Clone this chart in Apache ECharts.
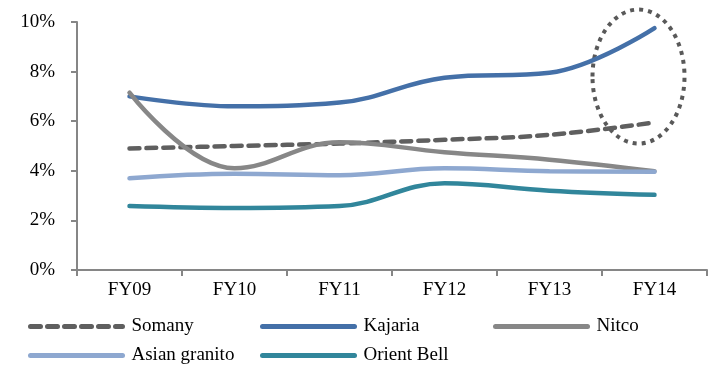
<!DOCTYPE html>
<html>
<head>
<meta charset="utf-8">
<script src="https://cdn.jsdelivr.net/npm/echarts@6/dist/echarts.min.js"></script>
<style>
  html, body { margin: 0; padding: 0; background: #fff; }
  #chart { width: 719px; height: 371px; }
</style>
</head>
<body>
<div id="chart"></div>
<script>
// Fiscal years on the x axis
const years = ['FY09', 'FY10', 'FY11', 'FY12', 'FY13', 'FY14'];

// Margin (%) per company
const somany       = [4.9, 5.0, 5.1, 5.25, 5.45, 5.95];
const kajaria      = [7.0, 6.6, 6.75, 7.75, 7.95, 9.75];
const nitco        = [7.15, 4.1, 5.15, 4.75, 4.45, 3.98];
const asianGranito = [3.7, 3.88, 3.82, 4.1, 3.98, 3.96];
const orientBell   = [2.58, 2.5, 2.58, 3.5, 3.2, 3.03];

// Y axis tick values (%)
const yTicks = [0, 2, 4, 6, 8, 10];

const FONT = '"Liberation Serif", "DejaVu Serif", serif';
const AXIS_GREY = '#868686';

const chart = echarts.init(document.getElementById('chart'), null, { renderer: 'canvas' });

function lineSeries(name, data, color, dashed) {
  return {
    name: name,
    type: 'line',
    data: data,
    smooth: 0.4,
    symbol: 'none',
    lineStyle: {
      color: color,
      width: 4.5,
      type: dashed ? [10, 7] : 'solid',
      cap: 'round'
    },
    itemStyle: { color: color }
  };
}

function legendItem(name, left, top) {
  return {
    data: [name],
    left: left,
    top: top,
    padding: 0,
    itemWidth: 92,
    itemHeight: 20,
    itemGap: 0,
    itemStyle: { opacity: 0 },
    lineStyle: { width: 5, cap: 'round' },
    textStyle: { fontFamily: FONT, fontSize: 19, color: '#000', padding: [0, 0, 0, 4] },
    selectedMode: false
  };
}

chart.setOption({
  animation: false,
  grid: { left: 77, right: 12, top: 22, bottom: 101, containLabel: false },
  xAxis: {
    type: 'category',
    data: years,
    boundaryGap: true,
    axisLine: { lineStyle: { color: AXIS_GREY, width: 2 } },
    axisTick: { show: true, length: 6, lineStyle: { color: AXIS_GREY, width: 2 } },
    axisLabel: { fontFamily: FONT, fontSize: 19, color: '#000', margin: 11 },
    splitLine: { show: false }
  },
  yAxis: {
    type: 'value',
    min: yTicks[0],
    max: yTicks[yTicks.length - 1],
    interval: 2,
    axisLine: { show: true, lineStyle: { color: AXIS_GREY, width: 2 } },
    axisTick: { show: true, length: 6, lineStyle: { color: AXIS_GREY, width: 2 } },
    axisLabel: { fontFamily: FONT, fontSize: 19, color: '#000', margin: 22, formatter: '{value}%' },
    splitLine: { show: false }
  },
  legend: [
    legendItem('Somany', 28, 317),
    legendItem('Kajaria', 260, 317),
    legendItem('Nitco', 493, 317),
    legendItem('Asian granito', 28, 346),
    legendItem('Orient Bell', 260, 346)
  ],
  series: [
    lineSeries('Somany', somany, '#5f5f5f', true),
    lineSeries('Kajaria', kajaria, '#4470a8', false),
    lineSeries('Nitco', nitco, '#878787', false),
    lineSeries('Asian granito', asianGranito, '#8ea8d0', false),
    lineSeries('Orient Bell', orientBell, '#31869b', false)
  ]
});

// Dotted ring highlighting the latest year of the two leaders
const centre = chart.convertToPixel({ xAxisIndex: 0, yAxisIndex: 0 }, ['FY14', 7.8]);
chart.setOption({
  graphic: [{
    type: 'ellipse',
    shape: { cx: centre[0] - 16, cy: centre[1], rx: 46, ry: 67 },
    style: { fill: null, stroke: '#595959', lineWidth: 4, lineDash: [4, 5] },
    silent: true
  }]
});
</script>
</body>
</html>
